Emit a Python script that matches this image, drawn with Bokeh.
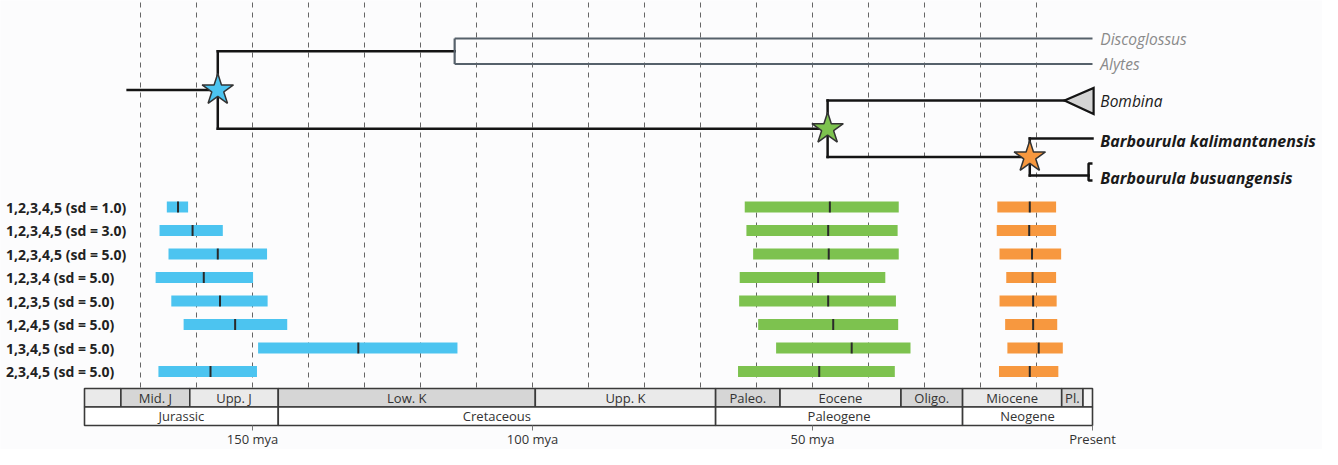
from bokeh.plotting import figure
from bokeh.models import Range1d
from bokeh.embed import file_html
from bokeh.resources import INLINE
from bokeh.core.properties import value

# ---------------- data ----------------
rows = ["1,2,3,4,5 (sd = 1.0)", "1,2,3,4,5 (sd = 3.0)", "1,2,3,4,5 (sd = 5.0)",
        "1,2,3,4 (sd = 5.0)", "1,2,3,5 (sd = 5.0)", "1,2,4,5 (sd = 5.0)",
        "1,3,4,5 (sd = 5.0)", "2,3,4,5 (sd = 5.0)"]
blue_old = [165.3, 166.6, 165.0, 167.3, 164.5, 162.3, 149.0, 166.8]
blue_young = [161.5, 155.3, 147.4, 149.9, 147.3, 143.8, 113.4, 149.2]
blue_med = [163.3, 160.7, 156.2, 158.7, 155.8, 153.1, 131.1, 157.5]
green_old = [62.1, 61.8, 60.6, 63.0, 63.1, 59.7, 56.5, 63.3]
green_young = [34.6, 34.8, 34.6, 37.0, 35.1, 34.7, 32.5, 35.3]
green_med = [46.9, 47.2, 47.1, 49.0, 47.2, 46.3, 43.0, 48.8]
orange_old = [17.0, 17.1, 16.6, 15.4, 16.6, 15.6, 15.2, 16.7]
orange_young = [6.5, 6.5, 5.6, 6.5, 6.4, 6.3, 5.3, 6.1]
orange_med = [11.2, 11.3, 10.8, 10.7, 10.6, 10.6, 9.6, 11.2]

tips = ["Discoglossus", "Alytes", "Bombina", "Barbourula kalimantanensis", "Barbourula busuangensis"]
stem_age = 172.3
root_age = 156.2
disc_alytes_age = 113.9
bomb_barb_age = 47.3
barb_age = 11.2
bombina_clade_age = 5.0
busuangensis_tip = 0.7

stages = ["", "Mid. J", "Upp. J", "Low. K", "Upp. K", "Paleo.", "Eocene", "Oligo.", "Miocene", "Pl.", ""]
stage_old = [180, 173.5, 161.2, 145.4, 99.5, 67.3, 55.8, 34.2, 23.2, 5.5, 1.7]
stage_young = [173.5, 161.2, 145.4, 99.5, 67.3, 55.8, 34.2, 23.2, 5.5, 1.7, 0]
periods = ["Jurassic", "Cretaceous", "Paleogene", "Neogene"]
period_old = [180, 145.4, 67.3, 23.2]
period_young = [145.4, 67.3, 23.2, 0]
tick_ages = [150, 100, 50, 0]
tick_labels = ["150 mya", "100 mya", "50 mya", "Present"]
grid_ages = [170, 160, 150, 140, 130, 120, 110, 100, 90, 80, 70, 60, 50, 40, 30, 20, 10]

# ---------------- layout (y in page-pixel units) ----------------
FONT = "Open Sans"
row_y = [214.5 + i * 23.5 for i in range(len(rows))]
tip_y = [46, 71.5, 108, 146, 183]
BAR_H = 11

p = figure(width=1322, height=449, output_backend="svg", toolbar_location=None,
           x_range=Range1d(195, -41.0714), y_range=Range1d(457, 8),
           min_border=0, outline_line_color=None,
           x_axis_location=None, y_axis_location=None)
p.xgrid.visible = False
p.ygrid.visible = False
p.background_fill_color = "#fcfcfd"
p.border_fill_color = "#fcfcfd"

# dashed gridlines
p.segment(x0=grid_ages, x1=grid_ages, y0=[10] * len(grid_ages), y1=[395] * len(grid_ages),
          line_color="#666666", line_width=1, line_dash="5 5")

# bars with median marks
for old, young, med, col in [(blue_old, blue_young, blue_med, "#4cc4f0"),
                             (green_old, green_young, green_med, "#7dc24f"),
                             (orange_old, orange_young, orange_med, "#f7983f")]:
    p.quad(left=old, right=young, top=[y - BAR_H / 2 for y in row_y],
           bottom=[y + BAR_H / 2 for y in row_y], fill_color=col, line_color=None)
    p.segment(x0=med, x1=med, y0=[y - BAR_H / 2 for y in row_y], y1=[y + BAR_H / 2 for y in row_y],
              line_color="#2a2a2a", line_width=2)

# row labels
p.text(x=[194.0] * len(rows), y=row_y, text=rows, text_font=value(FONT), text_font_size="14px",
       text_font_style="bold", text_color="#222222", text_baseline="middle", text_align="left")

# ---------------- tree ----------------
y_da = (tip_y[0] + tip_y[1]) / 2
y_barb = (tip_y[3] + tip_y[4]) / 2
y_bb = (tip_y[2] + y_barb) / 2
y_root = (y_da + y_bb) / 2

TREE = "#141414"
GREYL = "#56616b"
bx0 = [stem_age, root_age, root_age, root_age, bomb_barb_age, bomb_barb_age, bomb_barb_age,
       barb_age, barb_age, barb_age]
bx1 = [root_age, root_age, disc_alytes_age, bomb_barb_age, bomb_barb_age, bombina_clade_age, barb_age,
       barb_age, 0, busuangensis_tip]
by0 = [y_root, y_da, y_da, y_bb, tip_y[2], tip_y[2], y_barb, tip_y[3], tip_y[3], tip_y[4]]
by1 = [y_root, y_bb, y_da, y_bb, y_barb, tip_y[2], y_barb, tip_y[4], tip_y[3], tip_y[4]]
p.segment(x0=bx0, x1=bx1, y0=by0, y1=by1, line_color=TREE, line_width=2.5, line_cap="square")
p.segment(x0=[disc_alytes_age, disc_alytes_age, disc_alytes_age],
          x1=[disc_alytes_age, 0, 0],
          y0=[tip_y[0], tip_y[0], tip_y[1]], y1=[tip_y[1], tip_y[0], tip_y[1]],
          line_color=GREYL, line_width=2.2)
p.patch(x=[bombina_clade_age, -0.2, -0.2], y=[tip_y[2], tip_y[2] - 12.5, tip_y[2] + 13.5],
        fill_color="#d4d4d4", line_color=TREE, line_width=2.2, line_join="miter")
p.line(x=[0, busuangensis_tip, busuangensis_tip, 0],
       y=[tip_y[4] - 12, tip_y[4] - 12, tip_y[4] + 5, tip_y[4] + 5],
       line_color=TREE, line_width=2.5)

p.scatter(x=[root_age], y=[y_root], marker="star", size=33, fill_color="#4cc4f0",
          line_color="#333333", line_width=1.5)
p.scatter(x=[bomb_barb_age], y=[y_bb], marker="star", size=33, fill_color="#7dc24f",
          line_color="#333333", line_width=1.5)
p.scatter(x=[barb_age], y=[y_barb], marker="star", size=33, fill_color="#f7983f",
          line_color="#333333", line_width=1.5)

lab_x = -1.4
p.text(x=[lab_x, lab_x], y=[tip_y[0], tip_y[1]], text=tips[:2], text_font=value(FONT),
       text_font_size="15.5px", text_font_style="italic", text_color="#8a8a8a", text_baseline="middle")
p.text(x=[lab_x], y=[tip_y[2]], text=tips[2:3], text_font=value(FONT),
       text_font_size="15.5px", text_font_style="italic", text_color="#1a1a1a", text_baseline="middle")
p.text(x=[lab_x, lab_x], y=[tip_y[3] + 2, tip_y[4] + 2], text=tips[3:], text_font=value(FONT),
       text_font_size="16px", text_font_style="bold italic", text_color="#1a1a1a", text_baseline="middle")

# ---------------- timescale ----------------
TS_TOP, TS_MID, TS_BOT = 396, 414.5, 433
shade = ["#eaeaea" if i % 2 == 0 else "#d6d6d6" for i in range(len(stages))]
shade[-1] = "#f7f7f7"
p.quad(left=stage_old, right=stage_young, top=[TS_TOP] * len(stages), bottom=[TS_MID] * len(stages),
       fill_color=shade, line_color="#3a3a3a", line_width=1.6)
p.quad(left=period_old, right=period_young, top=[TS_MID] * len(periods), bottom=[TS_BOT] * len(periods),
       fill_color="#ffffff", line_color="#3a3a3a", line_width=1.6)
p.text(x=[(a + b) / 2 for a, b in zip(stage_old, stage_young)], y=[(TS_TOP + TS_MID) / 2] * len(stages),
       text=stages, text_font=value(FONT), text_font_size="13px", text_color="#333333",
       text_align="center", text_baseline="middle")
p.text(x=[(a + b) / 2 for a, b in zip(period_old, period_young)], y=[(TS_MID + TS_BOT) / 2] * len(periods),
       text=periods, text_font=value(FONT), text_font_size="13px", text_color="#333333",
       text_align="center", text_baseline="middle")
p.segment(x0=tick_ages, x1=tick_ages, y0=[TS_BOT] * 4, y1=[TS_BOT + 5] * 4, line_color="#777777", line_width=1)
p.text(x=tick_ages, y=[446] * 4, text=tick_labels, text_font=value(FONT), text_font_size="13px",
       text_color="#333333", text_align="center", text_baseline="middle")

open("out.html", "w").write(file_html(p, INLINE))
